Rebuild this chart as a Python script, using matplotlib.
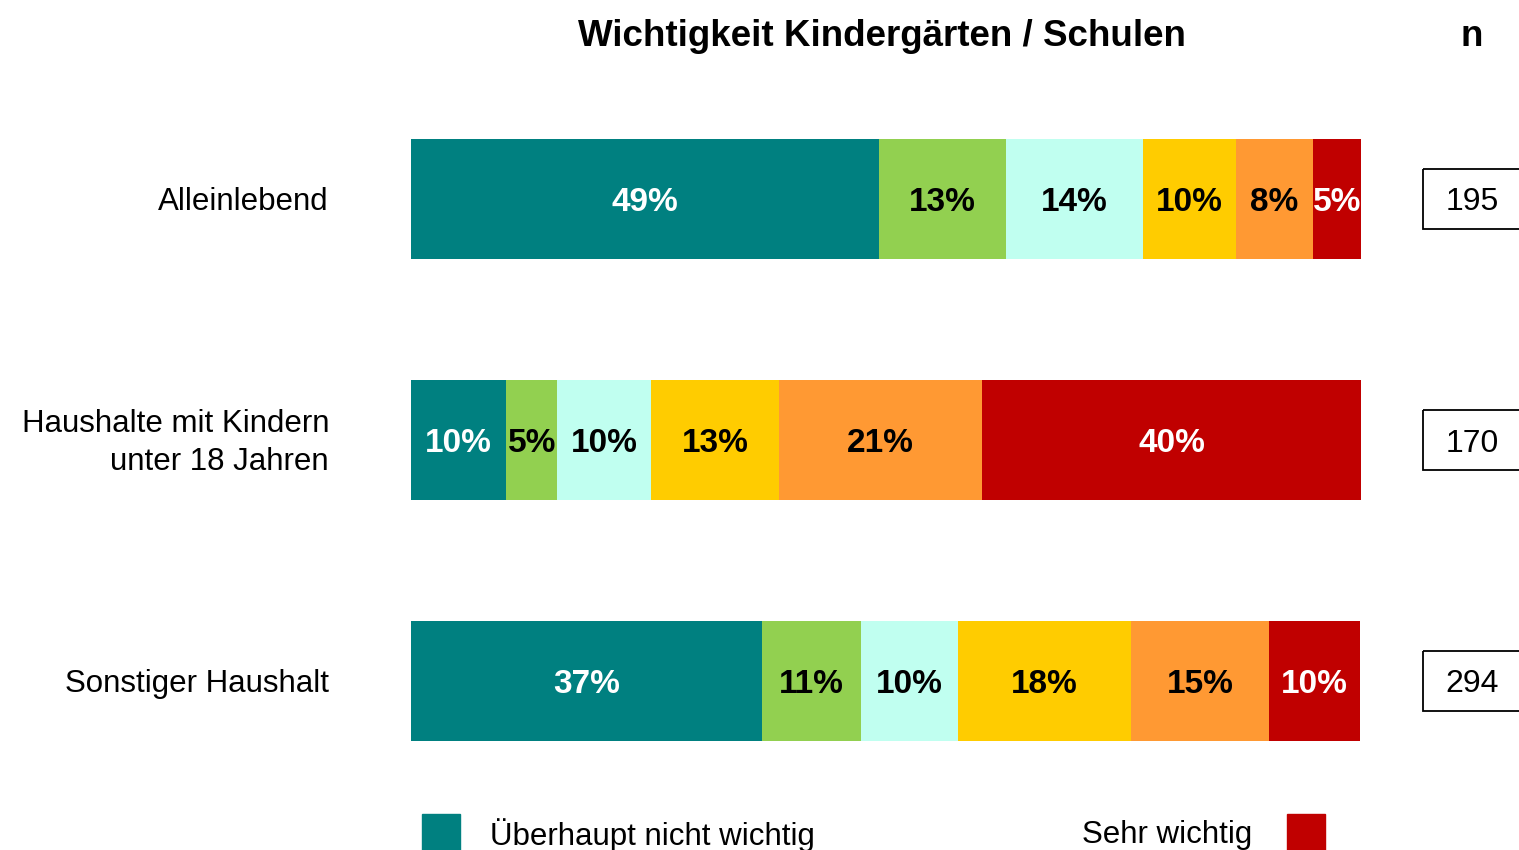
import matplotlib.pyplot as plt
from matplotlib.patches import Rectangle
import numpy as np

plt.rcParams["font.family"] = ["Liberation Sans", "DejaVu Sans"]

categories = ["Alleinlebend", "Haushalte mit Kindern\nunter 18 Jahren", "Sonstiger Haushalt"]
n_values = [195, 170, 294]
# shares per answer level (1 = not important ... 6 = very important), in %
shares = np.array([
    [49.3, 13.3, 14.4, 9.8, 8.1, 5.2],
    [10.0, 5.4, 9.9, 13.4, 21.4, 40.0],
    [36.9, 10.5, 10.2, 18.2, 14.5, 9.6],
])
labels = [
    ["49%", "13%", "14%", "10%", "8%", "5%"],
    ["10%", "5%", "10%", "13%", "21%", "40%"],
    ["37%", "11%", "10%", "18%", "15%", "10%"],
]
colors = ["#008080", "#92D050", "#C0FFF0", "#FFCC00", "#FF9933", "#C00000"]
text_colors = ["white", "black", "black", "black", "black", "white"]

W, H = 1519, 850
fig = plt.figure(figsize=(W / 100, H / 100), dpi=100)
ax = fig.add_axes([411 / W, 0, 950 / W, 1])

y = np.arange(len(categories))
left = np.zeros(len(categories))
for k in range(shares.shape[1]):
    ax.barh(y, shares[:, k], left=left, height=0.5, color=colors[k], edgecolor="none")
    for i in range(len(categories)):
        ax.text(left[i] + shares[i, k] / 2, y[i], labels[i][k], ha="center", va="center_baseline",
                fontsize=24, fontweight="bold", color=text_colors[k])
    left += shares[:, k]

ax.set_xlim(0, 100)
ax.set_ylim((H - 199) / 241, -199 / 241)
ax.axis("off")

for i, cat in enumerate(categories):
    ax.annotate(cat, xy=(0, y[i]), xytext=(-82 * 0.72, -2), textcoords="offset points",
                ha="right", va="center", fontsize=22.5, linespacing=1.35)
    ax.add_patch(Rectangle((1.0653, y[i] - 0.125), 0.103, 0.25, fill=False, edgecolor="black",
                           linewidth=1.3, clip_on=False,
                           transform=ax.get_yaxis_transform(which="grid")))
    ax.text(1.117, y[i], str(n_values[i]), transform=ax.get_yaxis_transform(which="grid"),
            ha="center", va="center_baseline", fontsize=23)

fig.text(882 / W, 1 - 32 / H, "Wichtigkeit Kindergärten / Schulen", ha="center", va="center_baseline",
         fontsize=26.5, fontweight="bold")
fig.text(1472 / W, 1 - 32 / H, "n", ha="center", va="center_baseline", fontsize=26.5, fontweight="bold")

# legend
fig.patches.append(Rectangle((422 / W, 0), 38 / W, 36 / H, color=colors[0], transform=fig.transFigure))
fig.patches.append(Rectangle((1287 / W, 0), 38 / W, 36 / H, color=colors[-1], transform=fig.transFigure))
fig.text(490 / W, 1 - 832 / H, "Überhaupt nicht wichtig", ha="left", va="center_baseline", fontsize=22.5)
fig.text(1252 / W, 1 - 832 / H, "Sehr wichtig", ha="right", va="center_baseline", fontsize=22.5)

fig.savefig("out.png", dpi=100)
